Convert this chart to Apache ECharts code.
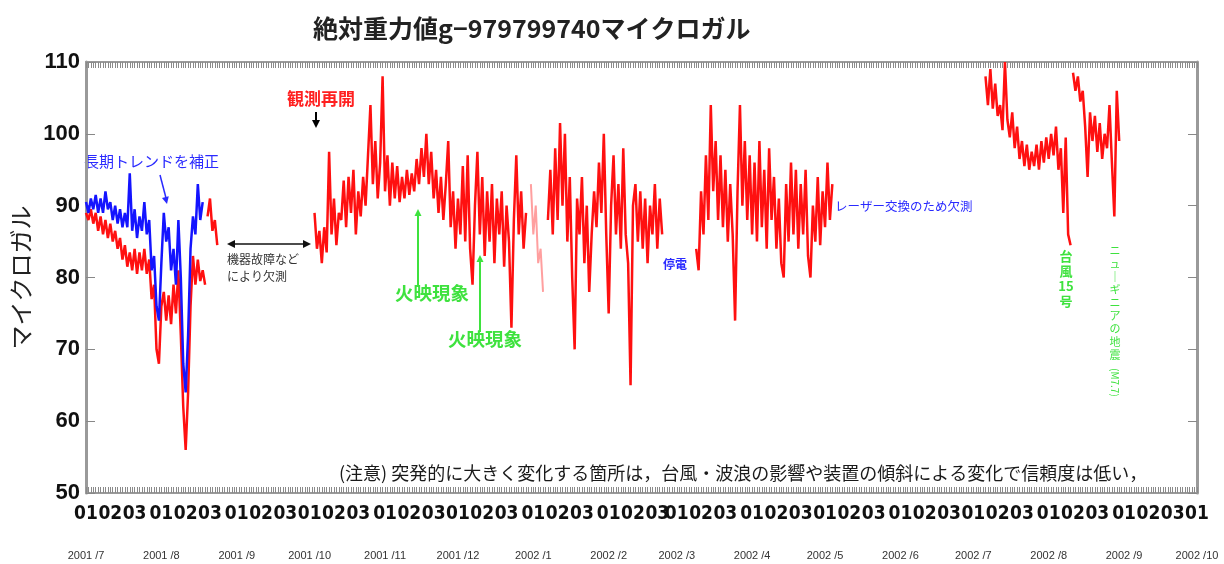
<!DOCTYPE html>
<html>
<head>
<meta charset="utf-8">
<script src="https://cdn.jsdelivr.net/npm/echarts@6/dist/echarts.min.js"></script>
<style>
  html, body { margin: 0; padding: 0; background: #fff; }
  #chart { width: 1224px; height: 564px; }
</style>
</head>
<body>
<div id="chart"></div>
<script>
// Absolute gravity, g - 979799740 microgal, daily readings
const DAY = 86400000;

// Raw readings (red), by continuous stretch
const redAStart = '2001-07-01';
const redA = [89, 88, 89.5, 87.5, 89, 86.5, 88.5, 86, 88, 85.5,
  87.5, 85, 86.5, 84, 85.5, 82.5, 84.5, 81.5, 83.5, 81,
  84, 80.5, 83.5, 81, 84, 80.5, 82.5, 77, 79, 70,
  68, 76, 78, 74, 77.5, 73.5, 79, 75, 81, 72,
  62, 56, 64, 76, 83, 79, 82.5, 79.5, 81, 79];

const redA2Start = '2001-08-20';
const redA2 = [88.5, 91, 86.5, 88, 84.5];

// Long-term-trend corrected readings (blue)
const blueStart = '2001-07-01';
const blueValues = [90.5, 89, 91, 89.5, 91.5, 89, 91, 89, 92, 89.5,
  90.5, 88, 90, 87.5, 89.5, 87, 89, 87, 94.5, 86.5,
  89.5, 85.5, 88.5, 86.5, 90.5, 86, 88, 81, 83, 76,
  74, 82, 89, 85, 87, 81, 84, 79, 88, 80,
  68, 64, 72, 84, 88.5, 86, 93, 88, 90.5];

const redBStart = '2001-10-03';
const redB = [89, 84, 86.5, 82, 87, 83.5, 97.5, 86, 91, 84.5,
  89, 88, 93.5, 87, 94, 89, 95, 86, 92, 88.5,
  94, 90, 97, 104, 93, 99, 91, 96, 108, 92,
  97, 90, 96, 91, 95.5, 90.5, 94, 91, 95, 91.5,
  94.5, 92, 96.5, 93, 98, 94, 100, 93, 97.5, 91,
  95, 89, 94, 88, 93, 99, 87, 92, 84, 91,
  86, 95.5, 85, 97, 84, 79, 90, 97.5, 86, 94,
  83, 92, 85, 93, 82, 91, 86, 92, 81.5, 90,
  85, 73, 88, 97, 86, 92, 84, 89];

// Less reliable stretch around New Year (pale)
const paleStart = '2001-12-31';
const paleValues = [93, 86, 90, 82, 84, 78];

const redB2Start = '2002-01-07';
const redB2 = [88, 95, 86, 98, 88, 101.5, 90, 100, 85, 94,
  80, 70, 91, 86, 94, 82, 90, 78, 86, 92,
  87, 96, 89, 100, 86, 75, 90, 97, 86, 93,
  84, 98, 86, 82, 65, 90, 93, 85, 92, 84,
  91, 82, 90, 86, 93, 84, 91, 86];

const redCStart = '2002-03-09';
const redC = [84, 81, 92, 86, 97, 88, 104, 92, 99, 88,
  97, 87, 95, 85, 93, 86, 74, 92, 104, 90,
  99, 88, 97, 86, 96, 85, 99, 87, 95, 84,
  98, 88, 94, 84, 91, 82, 80, 93, 85, 96,
  86, 95, 84, 93, 86, 95, 83, 80, 90, 85,
  94, 84.5, 92, 87, 96, 88, 93];

const redDStart = '2002-07-06';
const redD = [108, 104, 109, 103.5, 107, 102.5, 104, 100.5, 110, 102,
  99.5, 103, 98, 101, 96.5, 99, 95.5, 98.5, 95, 97.5,
  95.5, 98.5, 95, 99, 96, 99.5, 96.5, 100, 97, 101,
  95, 98, 89, 99.5, 86, 84.5];

const redEStart = '2002-08-11';
const redE = [108.5, 106, 108, 104.5, 106, 101, 94, 103, 99, 102.5,
  97.5, 101.5, 96.5, 100, 98, 104, 96, 88.5, 106, 99];

// Axis ranges and tick labels
const axisStart = '2001-07-01';
const axisEnd = '2002-10-01';
const yTicks = [50, 60, 70, 80, 90, 100, 110];
const decadeLabels = { 1: '01', 11: '02', 21: '03' };

const CJK = '"Noto Sans CJK JP", "Noto Sans CJK SC", sans-serif';

function toTime(s) { return Date.parse(s + 'T00:00:00Z'); }
function seg(start, values) {
  const t0 = toTime(start);
  return values.map((v, i) => [t0 + i * DAY, v]);
}

const xMin = toTime(axisStart);
const xMax = toTime(axisEnd);

// Tick positions: every day, every 1st/11th/21st, every month start
const dailyTicks = [];
for (let t = xMin; t <= xMax; t += DAY) dailyTicks.push(t);
const decadeTicks = dailyTicks.filter(t => decadeLabels[new Date(t).getUTCDate()]);
const monthTicks = dailyTicks.filter(t => new Date(t).getUTCDate() === 1);

function lineSeries(name, data, color, width) {
  return {
    name, type: 'line', data,
    showSymbol: false, symbol: 'none',
    lineStyle: { color, width }, itemStyle: { color },
    xAxisIndex: 0, yAxisIndex: 0, animation: false, silent: true
  };
}

const RED = '#ff1010';
const LW = 2.5;
const series = [
  lineSeries('redA', seg(redAStart, redA), RED, LW),
  lineSeries('redA2', seg(redA2Start, redA2), RED, LW),
  lineSeries('redB', seg(redBStart, redB), RED, LW),
  lineSeries('pale', seg(paleStart, paleValues), 'rgba(255,80,80,0.55)', 2),
  lineSeries('redB2', seg(redB2Start, redB2), RED, LW),
  lineSeries('redC', seg(redCStart, redC), RED, LW),
  lineSeries('redD', seg(redDStart, redD), RED, LW),
  lineSeries('redE', seg(redEStart, redE), RED, LW),
  lineSeries('blue', seg(blueStart, blueValues), '#1414ff', LW)
];

// Annotation helpers
function head(tx, ty, fx, fy, color, s) {
  const a = Math.atan2(ty - fy, tx - fx);
  const bx = tx - s * Math.cos(a), by = ty - s * Math.sin(a);
  const w = s * 0.5;
  return {
    type: 'polygon', silent: true,
    shape: { points: [[tx, ty], [bx + w * Math.sin(a), by - w * Math.cos(a)], [bx - w * Math.sin(a), by + w * Math.cos(a)]] },
    style: { fill: color }
  };
}
function seg2(x1, y1, x2, y2, color, w) {
  return { type: 'line', silent: true, shape: { x1, y1, x2, y2 }, style: { stroke: color, lineWidth: w } };
}
function label(x, y, text, color, size, weight, align, extra) {
  return Object.assign({
    type: 'text', x, y, silent: true,
    style: {
      text, fill: color, fontSize: size, fontFamily: CJK, fontWeight: weight || 'normal',
      align: align || 'left', textAlign: align || 'left',
      verticalAlign: 'middle', textVerticalAlign: 'middle', lineHeight: size + 2
    }
  }, extra || {});
}

const GREEN = '#3ee23e';
const BLUE_TXT = '#2a2aff';

const graphics = [
  // corrected-trend note
  label(84, 161, '長期トレンドを補正', BLUE_TXT, 15, 'normal'),
  seg2(160, 175, 166, 198, BLUE_TXT, 1.5),
  head(167, 204, 160, 175, BLUE_TXT, 7),
  // restart of observation
  label(287, 99, '観測再開', '#ff2020', 17, 'bold'),
  seg2(316, 112, 316, 120, '#000', 2),
  head(316, 128, 316, 112, '#000', 8),
  // gap due to instrument failure
  seg2(234, 244, 304, 244, '#111', 1.5),
  head(227, 244, 304, 244, '#111', 8),
  head(311, 244, 234, 244, '#111', 8),
  label(227, 259, '機器故障など', '#333', 12, 'normal'),
  label(227, 276, 'により欠測', '#333', 12, 'normal'),
  // incandescence events
  seg2(418, 287, 418, 216, GREEN, 2),
  head(418, 209, 418, 287, GREEN, 7),
  label(395, 293, '火映現象', GREEN, 18.5, 'bold'),
  seg2(480, 332, 480, 262, GREEN, 2),
  head(480, 255, 480, 332, GREEN, 7),
  label(448, 339, '火映現象', GREEN, 18.5, 'bold'),
  // outage and laser replacement
  label(663, 264, '停電', BLUE_TXT, 12, 'bold'),
  label(835, 206, 'レーザー交換のため欠測', BLUE_TXT, 12.5, 'normal'),
  // typhoon and earthquake
  label(1066, 279, '台\n風\n15\n号', GREEN, 13, 'bold', 'center', {}),
  label(1115, 303, 'ニ\nュ\n｜\nギ\nニ\nア\nの\n地\n震', GREEN, 11, 'normal', 'center', {}),
  label(1115, 368, '(M7.7)', GREEN, 10, 'normal', 'left', { rotation: -Math.PI / 2 }),
  // reliability note
  label(339, 473, '(注意) 突発的に大きく変化する箇所は，台風・波浪の影響や装置の傾斜による変化で信頼度は低い，', '#1a1a1a', 18, 'normal')
];

const chart = echarts.init(document.getElementById('chart'), null, { renderer: 'canvas' });
chart.setOption({
  animation: false,
  backgroundColor: '#fff',
  title: {
    text: '絶対重力値g−979799740マイクロガル',
    left: 308, top: 11,
    textStyle: { fontSize: 25, fontWeight: 'bold', fontFamily: CJK, color: '#222' }
  },
  grid: { left: 86, right: 27, top: 62, bottom: 71, containLabel: false },
  xAxis: [
    {
      type: 'value', position: 'bottom', min: xMin, max: xMax,
      splitLine: { show: false },
      axisLine: { show: true, lineStyle: { color: '#9a9a9a', width: 2 } },
      axisTick: { show: true, inside: true, length: 6, customValues: dailyTicks, lineStyle: { color: '#8a8a8a', width: 1 } },
      axisLabel: {
        show: true, customValues: decadeTicks, margin: 12,
        showMinLabel: true, showMaxLabel: true, hideOverlap: false,
        formatter: v => decadeLabels[new Date(v).getUTCDate()] || '',
        fontSize: 19, fontWeight: 'bold', color: '#111',
        fontFamily: '"Liberation Sans Narrow", "DejaVu Sans Condensed", "Liberation Sans", sans-serif'
      }
    },
    {
      type: 'value', position: 'bottom', min: xMin, max: xMax,
      splitLine: { show: false }, axisLine: { show: false }, axisTick: { show: false },
      axisLabel: {
        show: true, customValues: monthTicks, margin: 57,
        showMinLabel: true, showMaxLabel: true,
        formatter: v => { const d = new Date(v); return d.getUTCFullYear() + ' /' + (d.getUTCMonth() + 1); },
        fontSize: 11, color: '#333', fontFamily: '"Liberation Sans", sans-serif'
      }
    },
    {
      type: 'value', position: 'top', min: xMin, max: xMax,
      splitLine: { show: false },
      axisLine: { show: true, lineStyle: { color: '#9a9a9a', width: 2 } },
      axisTick: { show: true, inside: true, length: 6, customValues: dailyTicks, lineStyle: { color: '#8a8a8a', width: 1 } },
      axisLabel: { show: false }
    }
  ],
  yAxis: [
    {
      type: 'value', position: 'left', min: yTicks[0], max: yTicks[yTicks.length - 1], interval: 10,
      name: 'マイクロガル', nameLocation: 'middle', nameGap: 52,
      nameTextStyle: { fontSize: 24, color: '#222', fontFamily: CJK },
      splitLine: { show: false },
      axisLine: { show: true, lineStyle: { color: '#9a9a9a', width: 3 } },
      axisTick: { show: true, inside: true, length: 9, lineStyle: { color: '#888', width: 1 } },
      axisLabel: { margin: 6, fontSize: 22, fontWeight: 'bold', color: '#111', fontFamily: '"Liberation Sans", sans-serif' }
    },
    {
      type: 'value', position: 'right', min: yTicks[0], max: yTicks[yTicks.length - 1], interval: 10,
      splitLine: { show: false },
      axisLine: { show: true, lineStyle: { color: '#9a9a9a', width: 3 } },
      axisTick: { show: true, inside: true, length: 9, lineStyle: { color: '#888', width: 1 } },
      axisLabel: { show: false }
    }
  ],
  series,
  graphic: graphics
});
</script>
</body>
</html>
